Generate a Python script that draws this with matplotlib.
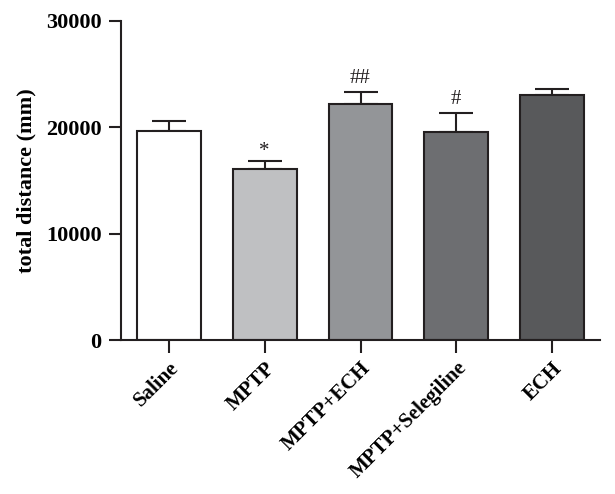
import matplotlib
matplotlib.use("Agg")
import matplotlib.pyplot as plt
import matplotlib.transforms as mtransforms
import numpy as np

categories = ["Saline", "MPTP", "MPTP+ECH", "MPTP+Selegiline", "ECH"]
means = [19700, 16050, 22200, 19600, 23000]
errors = [850, 750, 1100, 1750, 600]
marks = ["", "*", "##", "#", ""]
colors = ["#ffffff", "#bfc0c2", "#939598", "#6d6e71", "#58595b"]
yticks = [0, 10000, 20000, 30000]

plt.rcParams['font.family'] = ['Liberation Serif', 'DejaVu Serif']

fig = plt.figure(figsize=(6.15, 4.94), dpi=100)
ax = fig.add_axes([121/615, 1-340/494, (600-121)/615, (340-21)/494])

x = np.arange(len(categories))
ax.bar(x, means, width=0.667, color=colors, edgecolor="#231f20", linewidth=1.5, zorder=2)
ax.errorbar(x, means, yerr=[np.zeros(len(errors)), errors], fmt="none",
            ecolor="#231f20", elinewidth=1.5, capsize=12, capthick=1.5, zorder=1)
for xi, m, e, s in zip(x, means, errors, marks):
    if s == "*":
        ax.text(xi, m + e + 950, s, ha="center", va="center", fontsize=15, color="#231f20")
    elif s:
        ax.text(xi, m + e + 850, s, ha="center", va="baseline", fontsize=15, color="#231f20")

ax.set_xlim(-0.5, 4.5)
ax.set_ylim(0, 30000)
ax.set_yticks(yticks)
ax.set_yticklabels([str(v) for v in yticks], fontsize=16, fontweight="bold")
ax.set_xticks(x)
ax.set_xticklabels(categories, rotation=45, ha="right", rotation_mode="anchor",
                   fontsize=15, fontweight="bold")
offset = mtransforms.ScaledTranslation(4/100, 0, fig.dpi_scale_trans)
for lbl in ax.get_xticklabels():
    lbl.set_transform(lbl.get_transform() + offset)
ax.set_ylabel("total distance (mm)", fontsize=16, fontweight="bold", labelpad=7)

for s in ["top", "right"]:
    ax.spines[s].set_visible(False)
for s in ["left", "bottom"]:
    ax.spines[s].set_linewidth(1.5)
    ax.spines[s].set_color("#231f20")
ax.tick_params(axis="both", length=9, width=1.5, color="#231f20", direction="out")
ax.tick_params(axis="y", pad=5)
ax.tick_params(axis="x", pad=4)

fig.savefig("out.png", dpi=100)
